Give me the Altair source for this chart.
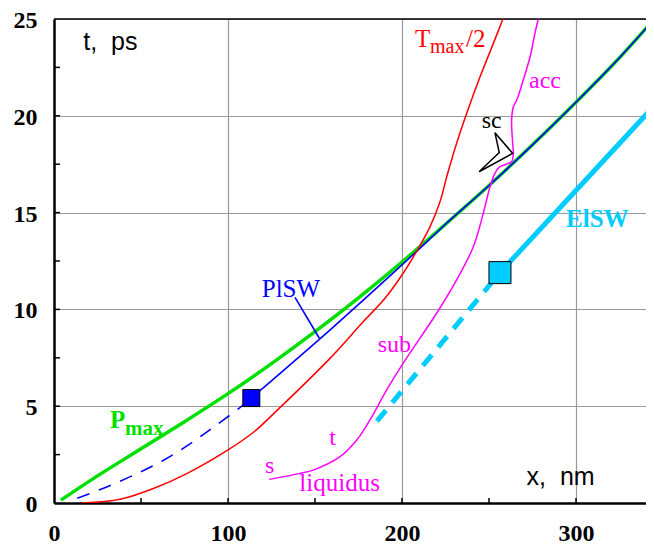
import altair as alt
import pandas as pd

# ---- data ----
pmax_x = [4, 25, 50, 75, 100, 125, 150, 175, 200, 225, 250, 275, 300, 325, 345]
pmax_t = [0.15, 1.4, 2.8, 4.2, 5.65, 7.2, 8.85, 10.6, 12.45, 14.4, 16.4, 18.5, 20.7, 23.0, 25.0]

plsw_dash_x = [13.4, 30.6, 47.9, 63.2, 78.6, 92, 106.3, 113.4]
plsw_dash_t = [0.24, 0.84, 1.53, 2.22, 3.08, 3.94, 4.89, 5.42]
plsw_x = [113.4, 160, 200, 215, 225, 250, 275, 300, 325, 345]
plsw_t = [5.42, 9.05, 12.3, 13.55, 14.4, 16.4, 18.5, 20.7, 23.0, 25.0]

tmax_x = [16, 38, 57.5, 76.6, 100, 115, 126.4, 158.6, 177.8, 190, 199.8, 209.4, 216, 221.8, 225.7, 231.4, 237.2, 244.8, 252.5, 258]
tmax_t = [0, 0.19, 0.76, 1.53, 2.74, 3.68, 4.63, 7.47, 9.37, 10.55, 11.75, 13.15, 14.25, 15.55, 16.85, 18.58, 20.13, 22.0, 23.74, 25]

liq_x = [123.7, 141.4, 149, 164.4, 174, 181.6, 191.2, 200.5, 219.9, 231.4, 241, 246.7, 250.6, 253.4, 256.3, 260, 263, 264, 263.6, 263, 264, 265.9, 269.7, 273.6, 276.4, 278.3]
liq_t = [1.22, 1.53, 1.7, 2.39, 3.25, 4.29, 5.84, 7.2, 9.8, 11.52, 13.24, 14.96, 16.34, 17.03, 17.37, 17.5, 17.63, 18.06, 18.58, 19.78, 20.47, 20.8, 21.85, 23.05, 24.26, 25]

elsw_dash_x = [185.6, 256.3]
elsw_dash_t = [4.23, 11.9]
elsw_x = [256.3, 345]
elsw_t = [11.9, 20.52]

plsw_sq_x = [113.4]
plsw_sq_t = [5.42]
elsw_sq_x = [256.3]
elsw_sq_t = [11.9]

sc_x = [244.3, 263.6, 253.4, 255.9, 244.3]
sc_t = [17.11, 18.06, 19.13, 18.1, 17.11]

ptr_x = [138.5, 152.5]
ptr_t = [10.62, 8.51]

xticks_minor = [50, 100, 150, 200, 250, 300]
yticks_minor = [2.5, 5, 7.5, 10, 12.5, 15, 17.5, 20, 22.5]

# labels (serif, regular)
lab_text = ["T", "max", "/2", "acc", "sc", "PlSW", "sub", "t", "s", "liquidus"]
lab_x = [207.5, 216.1, 236.8, 273, 245.8, 119.4, 186, 158.2, 121.3, 141]
lab_t = [23.57, 23.24, 23.57, 21.42, 19.35, 10.66, 7.81, 3.0, 1.53, 0.62]
lab_col = ["#ff0000", "#ff0000", "#ff0000", "#ff00ff", "#000000", "#0000ff",
           "#ff00ff", "#ff00ff", "#ff00ff", "#ff00ff"]
lab_size = [25, 20, 25, 24, 24, 25, 24, 24, 24, 25]

# labels (serif, bold)
blab_text = ["ElSW", "P", "max"]
blab_x = [294.3, 32.2, 40.8]
blab_t = [14.27, 3.86, 3.51]
blab_col = ["#00ccff", "#00e000", "#00e000"]
blab_size = [25, 25, 21]

# axis titles (sans)
slab_text = ["t,\u00a0\u00a0ps", "x,\u00a0\u00a0nm"]
slab_x = [16.8, 271.6]
slab_t = [23.4, 0.93]

W = 592
XMAX = W / 1.74
xscale = alt.Scale(domain=[0, XMAX], nice=False, zero=False)
yscale = alt.Scale(domain=[0, 25], nice=False, zero=False)
xaxis = alt.Axis(values=[0, 100, 200, 300], grid=True, ticks=False, labelPadding=18,
                 labelFlush=False, labelOverlap=False, title=None, format="d")
yaxis = alt.Axis(values=[0, 5, 10, 15, 20, 25], grid=True, ticks=False, labelPadding=17,
                 labelOffset=1.5, labelFlush=False, labelOverlap=False, title=None, format="d")
X = alt.X("x:Q", scale=xscale, axis=xaxis)
Y = alt.Y("t:Q", scale=yscale, axis=yaxis)


def line(xs, ts, color, width, dash=None, interp="linear"):
    df = pd.DataFrame({"x": xs, "t": ts, "o": list(range(len(xs)))})
    kw = dict(color=color, strokeWidth=width, clip=True, interpolate=interp)
    if dash:
        kw["strokeDash"] = dash
    return alt.Chart(df).mark_line(**kw).encode(x=X, y=Y, order="o:Q")


layers = []
# top border
layers.append(alt.Chart(pd.DataFrame({"t": [25]})).mark_rule(color="black", strokeWidth=1.5).encode(y=Y))
# inward ticks
layers.append(alt.Chart(pd.DataFrame({"x": xticks_minor, "t": [0] * len(xticks_minor),
                                      "t2": [0.26] * len(xticks_minor)}))
              .mark_rule(color="black", strokeWidth=1.5).encode(x=X, y=Y, y2="t2:Q"))
layers.append(alt.Chart(pd.DataFrame({"t": yticks_minor, "x": [0] * len(yticks_minor),
                                      "x2": [3.4] * len(yticks_minor)}))
              .mark_rule(color="black", strokeWidth=1.5).encode(x=X, x2="x2:Q", y=Y))

layers.append(line(pmax_x, pmax_t, "#00e000", 3.5, interp="catmull-rom"))
layers.append(line(plsw_dash_x, plsw_dash_t, "#0000ff", 1.6, dash=[13, 10], interp="catmull-rom"))
layers.append(line(plsw_x, plsw_t, "#0000ff", 1.6, interp="catmull-rom"))
layers.append(line(tmax_x, tmax_t, "#ff0000", 1.5, interp="catmull-rom"))
layers.append(line(liq_x, liq_t, "#ff00ff", 1.5, interp="catmull-rom"))
layers.append(line(elsw_dash_x, elsw_dash_t, "#00ccff", 5, dash=[14, 10]))
layers.append(line(elsw_x, elsw_t, "#00ccff", 5))
layers.append(line(sc_x, sc_t, "#000000", 1.5))
layers.append(line(ptr_x, ptr_t, "#0000ff", 1.6))

layers.append(alt.Chart(pd.DataFrame({"x": plsw_sq_x, "t": plsw_sq_t}))
              .mark_square(size=289, color="#0000ff", opacity=1, stroke="black", strokeWidth=1, filled=True)
              .encode(x=X, y=Y))
layers.append(alt.Chart(pd.DataFrame({"x": elsw_sq_x, "t": elsw_sq_t}))
              .mark_square(size=484, color="#00ccff", opacity=1, stroke="black", strokeWidth=1, filled=True)
              .encode(x=X, y=Y))

layers.append(alt.Chart(pd.DataFrame({"x": lab_x, "t": lab_t, "txt": lab_text, "c": lab_col, "s": lab_size}))
              .mark_text(font="Liberation Serif", align="left", baseline="alphabetic")
              .encode(x=X, y=Y, text="txt:N", color=alt.Color("c:N", scale=None),
                      size=alt.Size("s:Q", scale=None)))
layers.append(alt.Chart(pd.DataFrame({"x": blab_x, "t": blab_t, "txt": blab_text, "c": blab_col, "s": blab_size}))
              .mark_text(font="Liberation Serif", fontWeight="bold", align="left", baseline="alphabetic")
              .encode(x=X, y=Y, text="txt:N", color=alt.Color("c:N", scale=None),
                      size=alt.Size("s:Q", scale=None)))
layers.append(alt.Chart(pd.DataFrame({"x": slab_x, "t": slab_t, "txt": slab_text}))
              .mark_text(font="Liberation Sans", fontSize=25, color="black", align="left", baseline="alphabetic")
              .encode(x=X, y=Y, text="txt:N"))

chart = (
    alt.layer(*layers)
    .properties(width=W, height=484, autosize=alt.AutoSizeParams(type="none"),
                padding={"left": 46, "top": 11, "right": 0, "bottom": 43})
    .configure_view(strokeWidth=0)
    .configure_axis(labelFont="Liberation Serif", labelFontWeight="bold", labelFontSize=24,
                    labelColor="black", domainColor="black", domainWidth=2.5,
                    gridColor="#9a9a9a", gridWidth=1.2)
)

chart.save("out.html", embed_options={"renderer": "svg", "actions": False})
